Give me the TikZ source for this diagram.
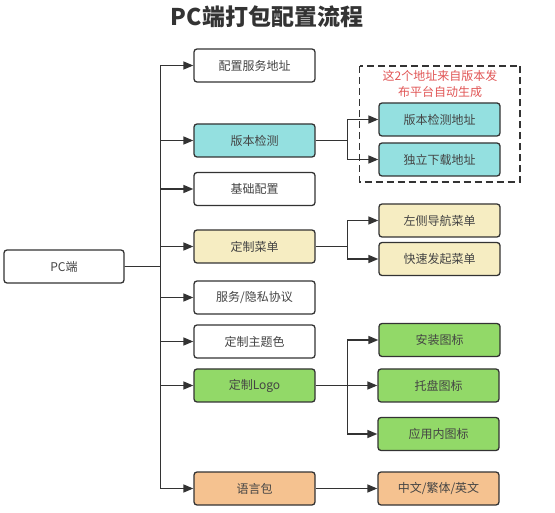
\documentclass[tikz,border=0pt]{standalone}
\usepackage{fontspec}
\setmainfont{Noto Sans CJK SC}
\usetikzlibrary{arrows.meta}
\definecolor{cyanf}{HTML}{94E0E0}
\definecolor{yellowf}{HTML}{F6EDC2}
\definecolor{greenf}{HTML}{92D968}
\definecolor{orangef}{HTML}{F5C290}
\definecolor{edgec}{HTML}{333333}
\definecolor{textc}{HTML}{444444}
\definecolor{redt}{HTML}{E05555}
\tikzset{
  box/.style={draw=edgec, line width=1.3pt, rounded corners=3pt, minimum width=121pt, minimum height=33pt, inner sep=0pt, font=\fontsize{12}{14}\selectfont, text=textc, fill=white},
  cyanbox/.style={box, fill=cyanf},
  yellowbox/.style={box, fill=yellowf},
  greenbox/.style={box, fill=greenf},
  orangebox/.style={box, fill=orangef},
  arr/.style={draw=edgec, line width=1.4pt, -{Triangle[length=10pt,width=8pt]}},
}
\begin{document}
\begin{tikzpicture}[x=1pt,y=-1pt]
\useasboundingbox (0,0) rectangle (555,513);
\node[font=\fontsize{23}{26}\selectfont\bfseries, text=edgec] (title) at (267,17) {PC端打包配置流程};

\node[box, minimum width=120pt] (pc) at (64,266.5) {PC端};

\node[box] (m1) at (254.5,65.5) {配置服务地址};
\node[cyanbox] (m2) at (254.5,140.5) {版本检测};
\node[box] (m3) at (254.5,189) {基础配置};
\node[yellowbox] (m4) at (254.5,246.5) {定制菜单};
\node[box] (m5) at (254.5,297.5) {服务/隐私协议};
\node[box] (m6) at (254.5,341.5) {定制主题色};
\node[greenbox] (m7) at (254.5,385.5) {定制Logo};
\node[orangebox] (m8) at (254.5,488.5) {语言包};

\draw[draw=edgec, line width=1.3pt, dash pattern=on 7pt off 4pt] (359.5,66) rectangle (520,182);
\node[text=redt, font=\fontsize{12}{15.5}\selectfont, align=center] (note) at (440,84) {这2个地址来自版本发\\布平台自动生成};

\node[cyanbox] (r1) at (439.5,119.5) {版本检测地址};
\node[cyanbox] (r2) at (439.5,159.5) {独立下载地址};
\node[yellowbox] (r3) at (439.5,220.5) {左侧导航菜单};
\node[yellowbox] (r4) at (439.5,259) {快速发起菜单};
\node[greenbox] (r5) at (439.5,340) {安装图标};
\node[greenbox] (r6) at (438.5,385.5) {托盘图标};
\node[greenbox] (r7) at (438.5,434) {应用内图标};
\node[orangebox] (r8) at (438.5,488.5) {中文/繁体/英文};

\foreach \m in {m1,m2,m3,m4,m5,m6,m7,m8}
  \draw[arr] (pc.east) -- ++(36,0) |- (\m.west);

\foreach \r in {r1,r2} \draw[arr] (m2.east) -- ++(32,0) |- (\r.west);
\foreach \r in {r3,r4} \draw[arr] (m4.east) -- ++(32,0) |- (\r.west);
\foreach \r in {r5,r6,r7} \draw[arr] (m7.east) -- ++(32,0) |- (\r.west);
\draw[arr] (m8.east) -- (r8.west);
\end{tikzpicture}
\end{document}
